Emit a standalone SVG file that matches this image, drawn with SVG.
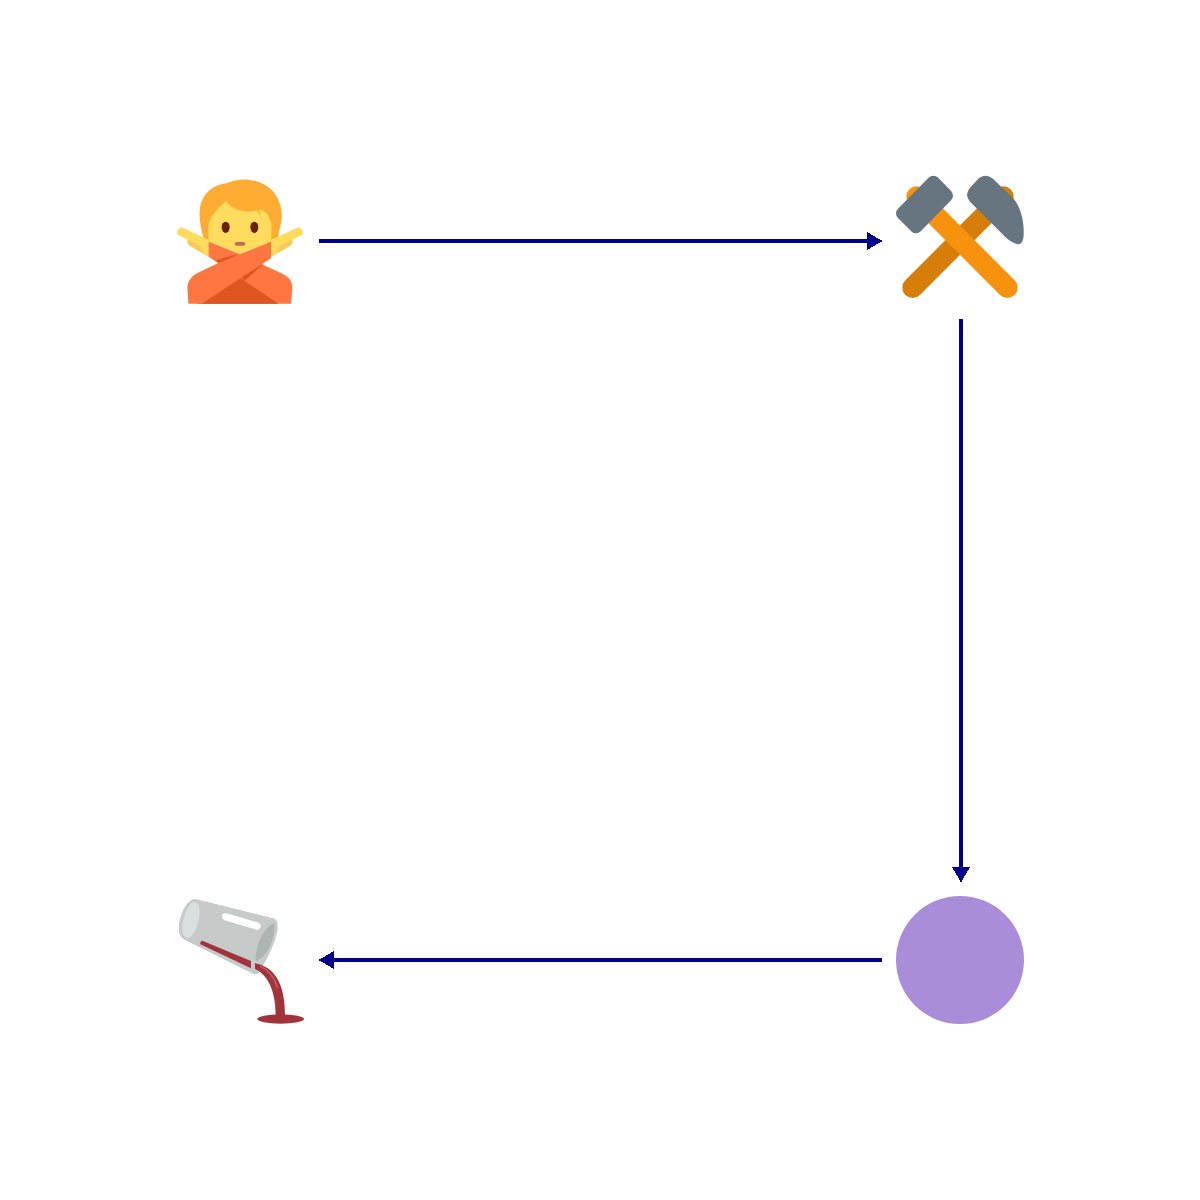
<svg xmlns="http://www.w3.org/2000/svg" width="1200" height="1200" viewBox="0 0 1200 1200">
<defs>
<style>
.edge{stroke:#00008b;stroke-width:4;fill:none;shape-rendering:crispEdges}
.head{fill:#00008b;shape-rendering:crispEdges}
.dk{fill:#dd551f}.or{fill:#ff7640}
</style>
</defs>
<rect width="1200" height="1200" fill="#fff"/>
<g id="connectors">
<path class="edge" d="M319 241H870"/><path class="head" d="M882.500 241L867 232V250Z"/>
<path class="edge" d="M961 319V870"/><path class="head" d="M961 882.500L952 867H970Z"/>
<path class="edge" d="M882 960H331"/><path class="head" d="M318.500 960L334 951V969Z"/>
</g>
<g id="node-person" transform="translate(160 165) scale(.3333)">
<path fill="#ffac33" d="M200 55C240 35 300 40 335 75C365 105 370 150 362 180L350 235H135C125 200 115 160 120 130C125 90 155 60 200 55Z"/>
<path fill="#ffdc5d" d="M198 108C215 135 260 145 290 136C298 146 303 155 305 168C304 155 300 145 296 135C318 132 336 160 334 190V230L240 268L146 230L145 185C150 150 175 130 198 108Z"/>
<ellipse fill="#662113" cx="197" cy="187" rx="12" ry="17"/><ellipse fill="#662113" cx="283" cy="187" rx="12" ry="17"/>
<rect fill="#c1694f" x="224" y="231" width="32" height="11" rx="5.500"/>
<g id="hand-l">
<path fill="#f9ca55" d="M88 220L146 228V275L90 243Q74 230 88 220Z"/>
<path fill="#ffdc5d" d="M65 187L146 224V273L132 265L120 243L55 210Q42 197 65 187Z"/>
</g>
<g transform="translate(480 0) scale(-1 1)">
<path fill="#f9ca55" d="M88 220L146 228V275L90 243Q74 230 88 220Z"/>
<path fill="#ffdc5d" d="M65 187L146 224V273L132 265L120 243L55 210Q42 197 65 187Z"/>
</g>
<path class="dk" d="M210 310L300 300L355 416H125Z"/>
<path class="or" d="M146 230L240 268L300 295L375 330Q397 345 397 368L393 416H355L253 348L146 275Z"/>
<path class="dk" d="M110 416L200 340L253 348L355 416Z"/>
<path class="dk" d="M168 286L238 266L182 298Z"/>
<path class="dk" d="M253 348L312 296L240 330Z"/>
<path class="or" d="M333 230V280L125 416H85L82 368Q82 345 105 328L170 296L240 268Z"/>
</g>
<g id="node-hammers" transform="translate(860 165) scale(.3333)">
<path stroke="#d67d0a" stroke-width="62" stroke-linecap="round" fill="none" d="M158 368L430 95"/>
<path stroke="#f7920f" stroke-width="62" stroke-linecap="round" fill="none" d="M442 368L170 95"/>
<path fill="#66757f" stroke="#66757f" stroke-width="40" stroke-linejoin="round" d="M220 52L259 92L168 185L128 145Z"/>
<path fill="#66757f" d="M358 38Q380 25 397 40L460 100C485 130 495 180 490 220Q485 245 465 235Q445 228 425 205L330 110Q312 90 330 68Z"/>
</g>
<g id="node-circle"><circle cx="960" cy="960" r="64" fill="#aa8dd8"/></g>
<g id="node-glass" transform="translate(165 885) scale(.3333)">
<path fill="#c6cbc9" d="M92 42L325 100Q340 105 338 130C335 170 300 235 280 265Q270 272 255 262L60 165Q38 155 42 120C45 90 65 40 92 42Z"/>
<ellipse fill="#d9dfde" cx="78" cy="105" rx="23" ry="55" transform="rotate(14 78 105)"/>
<path fill="#aeb4b2" d="M328 115C335 160 300 225 272 228C268 190 295 125 328 115Z"/>
<path stroke="#fff" stroke-width="22" stroke-linecap="round" fill="none" d="M182 95L276 123"/>
<path fill="#a0343a" d="M112 167L258 228V250L106 178Q104 170 112 167Z"/>
<path fill="#a0343a" d="M270 235C325 245 360 290 360 390H332C332 320 310 270 270 252Z"/>
<path stroke="#c05a5e" stroke-width="5" fill="none" d="M285 243C310 255 330 280 338 310"/>
<ellipse fill="#a0343a" cx="347" cy="402" rx="70" ry="14"/>
</g>
</svg>
